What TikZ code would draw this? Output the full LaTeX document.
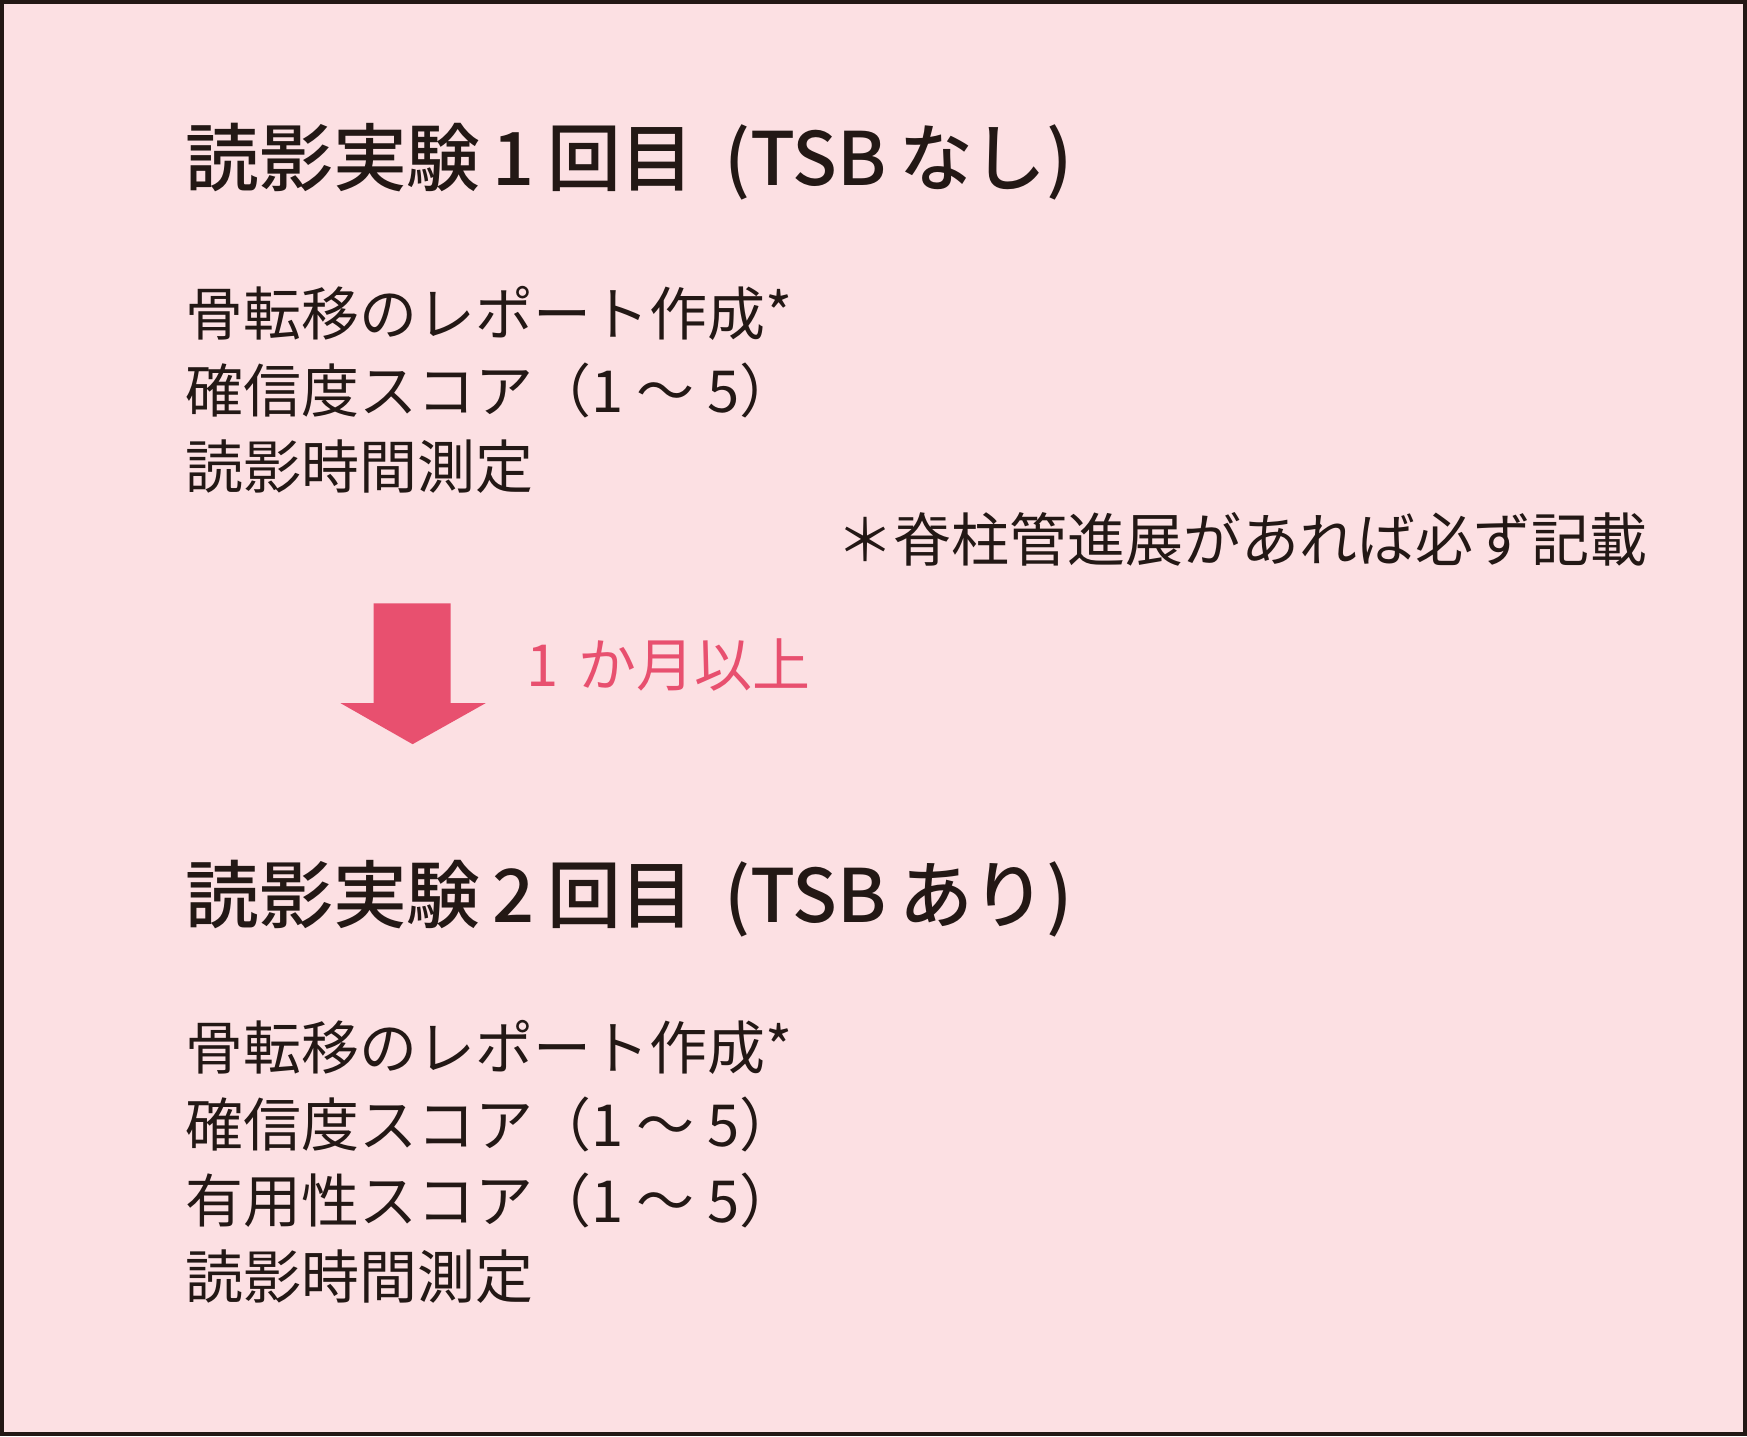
\documentclass[tikz,border=0pt]{standalone}
\usepackage{fontspec}
\setmainfont{Noto Sans CJK JP}
\newfontfamily\headfont{Noto Sans CJK JP}[UprightFont={* Medium}]
\usetikzlibrary{positioning}
\definecolor{bgpink}{HTML}{FCE0E3}
\definecolor{inkdark}{HTML}{231815}
\definecolor{arrowpink}{HTML}{E8506F}
\tikzset{
  head node/.style={anchor=base west,inner sep=0pt,text=inkdark,font=\headfont\fontsize{21}{25}\selectfont},
  item node/.style={inner sep=0pt,text=inkdark,text height=0.56cm,text depth=0.19cm,font=\fontsize{16.5}{20}\selectfont},
  note node/.style={anchor=base east,inner sep=0pt,text=inkdark,font=\fontsize{16.5}{20}\selectfont},
  gap node/.style={anchor=base west,inner sep=0pt,text=arrowpink,font=\fontsize{16.5}{20}\selectfont}
}

\begin{document}
\begin{tikzpicture}[x=0.01cm,y=-0.01cm]
  % frame
  \fill[bgpink] (0,0) rectangle (1747,1436);
  \draw[inkdark,line width=1.2pt] (1,1) rectangle (1746,1435);

  % first reading
  \node[head node] (head1) at (184,185) {読影実験\,1\,回目\hspace{0.4em}(TSB\,なし)};
  \node[item node,anchor=base west] (rep1) at (184,335) {骨転移のレポート作成*};
  \node[item node,below=0pt of rep1.south west,anchor=north west] (conf1) {確信度スコア（1 〜 5）};
  \node[item node,below=0pt of conf1.south west,anchor=north west] (time1) {読影時間測定};
  \node[note node] (note) at (1649,561) {＊脊柱管進展があれば必ず記載};

  % interval
  \fill[arrowpink] (373,603) -- (450,603) -- (450,703) -- (485,703) -- (412,744)
    -- (340,703) -- (373,703) -- cycle;
  \node[gap node] (gap) at (525,686) {1\hspace{0.35em}か月以上};

  % second reading
  \node[head node] (head2) at (184,923) {読影実験\,2\,回目\hspace{0.4em}(TSB\,あり)};
  \node[item node,anchor=base west] (rep2) at (184,1070) {骨転移のレポート作成*};
  \node[item node,below=0pt of rep2.south west,anchor=north west] (conf2) {確信度スコア（1 〜 5）};
  \node[item node,below=0pt of conf2.south west,anchor=north west] (use2) {有用性スコア（1 〜 5）};
  \node[item node,below=0pt of use2.south west,anchor=north west] (time2) {読影時間測定};
\end{tikzpicture}
\end{document}
